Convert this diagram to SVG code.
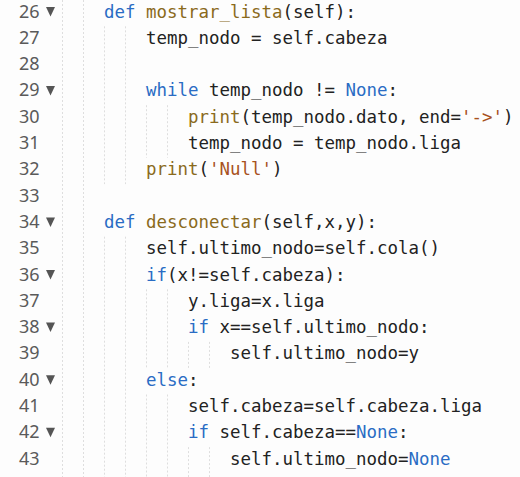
<svg xmlns="http://www.w3.org/2000/svg" width="520" height="477" viewBox="0 0 520 477">
<style>
.code{font-family:"DejaVu Sans Mono","Liberation Mono",monospace;font-size:17.44px;fill:#222;white-space:pre}
.kw{fill:#2a6cc4}
.fn{fill:#8a6a1c}
.str{fill:#a8521e}
.ln{font-family:"Noto Sans","Open Sans",sans-serif;font-size:18px;fill:#5a5a5a;text-anchor:end}
.fold{fill:#555}
.guide{stroke:#dedede;stroke-width:1;stroke-dasharray:2 2}
</style>
<defs>
<path id="tri" d="M0,0 L9,0 L4.5,9.5 Z"/>
</defs>
<rect width="520" height="477" fill="#fdfdfd"/>
<g id="guides">
<line class="guide" x1="62.5" y1="0" x2="62.5" y2="477"/>
<line class="guide" x1="83.5" y1="0" x2="83.5" y2="477"/>
<line class="guide" x1="104.5" y1="26.3" x2="104.5" y2="184.1"/>
<line class="guide" x1="125.5" y1="26.3" x2="125.5" y2="184.1"/>
<line class="guide" x1="104.5" y1="236.7" x2="104.5" y2="477"/>
<line class="guide" x1="125.5" y1="236.7" x2="125.5" y2="477"/>
<line class="guide" x1="146.5" y1="105.2" x2="146.5" y2="157.8"/>
<line class="guide" x1="167.5" y1="105.2" x2="167.5" y2="157.8"/>
<line class="guide" x1="146.5" y1="289.3" x2="146.5" y2="368.2"/>
<line class="guide" x1="167.5" y1="289.3" x2="167.5" y2="368.2"/>
<line class="guide" x1="146.5" y1="394.5" x2="146.5" y2="477"/>
<line class="guide" x1="167.5" y1="394.5" x2="167.5" y2="477"/>
<line class="guide" x1="188.5" y1="341.9" x2="188.5" y2="368.2"/>
<line class="guide" x1="209.5" y1="341.9" x2="209.5" y2="368.2"/>
<line class="guide" x1="188.5" y1="447.1" x2="188.5" y2="477"/>
<line class="guide" x1="209.5" y1="447.1" x2="209.5" y2="477"/>
</g>
<g id="gutter">
<text class="ln" x="39.5" y="17.5">26</text>
<text class="ln" x="39.5" y="43.8">27</text>
<text class="ln" x="39.5" y="70.1">28</text>
<text class="ln" x="39.5" y="96.4">29</text>
<text class="ln" x="39.5" y="122.7">30</text>
<text class="ln" x="39.5" y="149">31</text>
<text class="ln" x="39.5" y="175.3">32</text>
<text class="ln" x="39.5" y="201.6">33</text>
<text class="ln" x="39.5" y="227.9">34</text>
<text class="ln" x="39.5" y="254.2">35</text>
<text class="ln" x="39.5" y="280.5">36</text>
<text class="ln" x="39.5" y="306.8">37</text>
<text class="ln" x="39.5" y="333.1">38</text>
<text class="ln" x="39.5" y="359.4">39</text>
<text class="ln" x="39.5" y="385.7">40</text>
<text class="ln" x="39.5" y="412">41</text>
<text class="ln" x="39.5" y="438.3">42</text>
<text class="ln" x="39.5" y="464.6">43</text>
<use href="#tri" class="fold" x="46" y="7"/>
<use href="#tri" class="fold" x="46" y="85.9"/>
<use href="#tri" class="fold" x="46" y="217.4"/>
<use href="#tri" class="fold" x="46" y="270"/>
<use href="#tri" class="fold" x="46" y="322.6"/>
<use href="#tri" class="fold" x="46" y="375.2"/>
<use href="#tri" class="fold" x="46" y="427.8"/>
</g>
<g id="code">
<text class="code" x="104" y="17.5"><tspan class="kw">def</tspan> <tspan class="fn">mostrar_lista</tspan>(self):</text>
<text class="code" x="146" y="43.8">temp_nodo = self.cabeza</text>
<text class="code" x="146" y="96.4"><tspan class="kw">while</tspan> temp_nodo != <tspan class="kw">None</tspan>:</text>
<text class="code" x="188" y="122.7"><tspan class="fn">print</tspan>(temp_nodo.dato, end=<tspan class="str">'-&gt;'</tspan>)</text>
<text class="code" x="188" y="149">temp_nodo = temp_nodo.liga</text>
<text class="code" x="146" y="175.3"><tspan class="fn">print</tspan>(<tspan class="str">'Null'</tspan>)</text>
<text class="code" x="104" y="227.9"><tspan class="kw">def</tspan> <tspan class="fn">desconectar</tspan>(self,x,y):</text>
<text class="code" x="146" y="254.2">self.ultimo_nodo=self.cola()</text>
<text class="code" x="146" y="280.5"><tspan class="kw">if</tspan>(x!=self.cabeza):</text>
<text class="code" x="188" y="306.8">y.liga=x.liga</text>
<text class="code" x="188" y="333.1"><tspan class="kw">if</tspan> x==self.ultimo_nodo:</text>
<text class="code" x="230" y="359.4">self.ultimo_nodo=y</text>
<text class="code" x="146" y="385.7"><tspan class="kw">else</tspan>:</text>
<text class="code" x="188" y="412">self.cabeza=self.cabeza.liga</text>
<text class="code" x="188" y="438.3"><tspan class="kw">if</tspan> self.cabeza==<tspan class="kw">None</tspan>:</text>
<text class="code" x="230" y="464.6">self.ultimo_nodo=<tspan class="kw">None</tspan></text>
</g>
</svg>
